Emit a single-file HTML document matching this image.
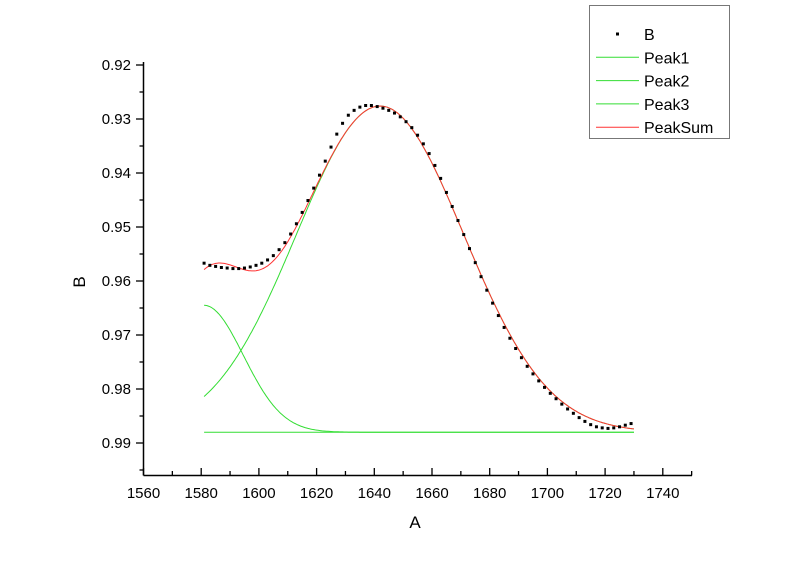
<!DOCTYPE html>
<html><head><meta charset="utf-8"><style>
html,body{margin:0;padding:0;background:#fff;}
svg{display:block;font-family:"Liberation Sans",Arial,sans-serif;}
</style></head><body>
<svg id="chart" width="800" height="565" viewBox="0 0 800 565">
<g id="axes"></g>
<g id="series"></g>
<g id="legend"></g>
</svg>
<script>
const xTicks=[1560,1580,1600,1620,1640,1660,1680,1700,1720,1740];
const yTicks=[0.92,0.93,0.94,0.95,0.96,0.97,0.98,0.99];
const xData=[1581,1583,1585,1587,1589,1591,1593,1595,1597,1599,1601,1603,1605,1607,1609,1611,1613,1615,1617,1619,1621,1623,1625,1627,1629,1631,1633,1635,1637,1639,1641,
1643,1645,1647,1649,1651,1653,1655,1657,1659,1661,1663,1665,1667,1669,1671,1673,1675,1677,1679,1681,1683,1685,1687,1689,1691,1693,1695,1697,1699,1701,1703,1705,1707,1709,1711,1713,1715,1717,1719,1721,1723,1725,1727,1729];
const bData=[.9567,.9571,.9573,.9575,.9576,.9577,.9577,.9576,.9574,.9571,.9567,.9561,.9553,.9542,.9529,.9513,.9494,.9473,.9451,.9428,.9404,.9378,.9352,.9328,.9308,.9293,.9284,.9278,.9275,.9275,.9277,
.9280,.9284,.9289,.9296,.9305,.9316,.9330,.9346,.9364,.9386,.9410,.9436,.9462,.9488,.9514,.9540,.9566,.9592,.9617,.9641,.9664,.9686,.9706,.9725,.9742,.9758,.9772,.9785,.9797,.9808,.9818,.9828,.9837,.9845,.9853,.9860,.9866,.9870,.9872,.9873,.9872,.9870,.9867,.9864];
const baseline=0.988;
const peakCenters=[1642,1581,1700];
const peakDepths=[0.0604,0.0235,0.0];
const peakWidths=[29,13.6,10];
const fitRange=[1581,1730];

const NS="http://www.w3.org/2000/svg";
const X=v=>143.5+(v-1560)*57.7/20;
const Y=v=>65+(v-0.92)*5400;
function mk(tag,attrs,parent){const e=document.createElementNS(NS,tag);for(const k in attrs)e.setAttribute(k,attrs[k]);parent.appendChild(e);return e;}
const axes=document.getElementById('axes'),series=document.getElementById('series'),legend=document.getElementById('legend');
let e;
e=mk('line',{x1:143.5,y1:62,x2:143.5,y2:475.5,stroke:'#000','stroke-width':1.5},axes);

e=mk('line',{x1:143.5,y1:475.5,x2:692,y2:475.5,stroke:'#000','stroke-width':1.5},axes);

for(let v=1560;v<=1750;v+=10){const major=(v%20===0);
 e=mk('line',{x1:X(v),y1:475.5,x2:X(v),y2:major?468:471,stroke:'#000','stroke-width':1.3},axes);
 }
xTicks.forEach(v=>{e=mk('text',{x:X(v),y:498,'font-size':15,'text-anchor':'middle',fill:'#000'},axes);e.textContent=v;
 });
for(let i=0;i<=15;i++){const v=0.92+i*0.005;const major=(i%2===0);
 e=mk('line',{x1:143.5,y1:Y(v),x2:major?136:139.5,y2:Y(v),stroke:'#000','stroke-width':1.3},axes);
 }
yTicks.forEach(v=>{e=mk('text',{x:131,y:Y(v)+5,'font-size':15,'text-anchor':'end',fill:'#000'},axes);e.textContent=v.toFixed(2);
 });
e=mk('text',{x:415,y:528,'font-size':17,'text-anchor':'middle'},axes);e.textContent='A';

e=mk('text',{x:85,y:282,'font-size':17,'text-anchor':'middle',transform:'rotate(-90 85 282)'},axes);e.textContent='B';


function peakVal(i,x){return peakDepths[i]*Math.exp(-Math.pow(x-peakCenters[i],2)/(2*peakWidths[i]*peakWidths[i]));}
function pathFor(fn){let d='';for(let x=fitRange[0];x<=fitRange[1]+0.001;x+=0.5){d+=(d?'L':'M')+X(x).toFixed(1)+','+Y(fn(x)).toFixed(1);}return d;}
['peak1','peak2','peak3'].forEach((nm,i)=>{
 e=mk('path',{d:pathFor(x=>baseline-peakVal(i,x)),fill:'none',stroke:'#33dd33','stroke-width':1},series);
 });
e=mk('path',{d:pathFor(x=>baseline-peakVal(0,x)-peakVal(1,x)-peakVal(2,x)),fill:'none',stroke:'#ff3333','stroke-width':1},series);

xData.forEach((x,i)=>{e=mk('rect',{x:X(x)-1.5,y:Y(bData[i])-1.5,width:3,height:3,fill:'#000'},series);
 });

e=mk('rect',{x:589.5,y:5.5,width:140,height:133,fill:'#fff',stroke:'#777','stroke-width':1},legend);

const legItems=[['B',null],['Peak1','#33dd33'],['Peak2','#33dd33'],['Peak3','#33dd33'],['PeakSum','#ff3333']];
legItems.forEach((it,i)=>{const y=34+i*23.3;
 const g=mk('g',{},legend);
 if(it[1]){mk('line',{x1:596,y1:y,x2:639,y2:y,stroke:it[1],'stroke-width':1},g);}
 else{mk('rect',{x:616,y:y-1.5,width:3,height:3,fill:'#000'},g);}
 const t=mk('text',{x:644,y:y+6,'font-size':16,fill:'#000'},g);t.textContent=it[0];});
</script>
</body></html>
